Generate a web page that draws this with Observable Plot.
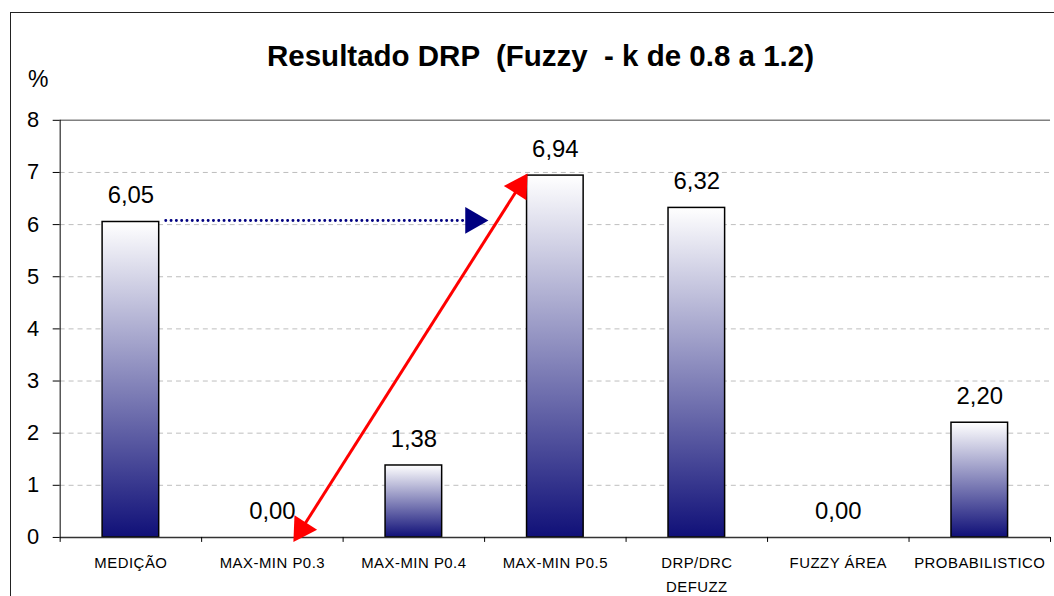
<!DOCTYPE html>
<html>
<head>
<meta charset="utf-8">
<script src="https://cdn.jsdelivr.net/npm/d3@7"></script>
<script src="https://cdn.jsdelivr.net/npm/@observablehq/plot@0.6"></script>
<style>
  html, body { margin: 0; padding: 0; background: #fff; }
  #wrap { position: relative; width: 1054px; height: 596px; overflow: hidden; font-family: "Liberation Sans", Arial, sans-serif; }
  #frame { position: absolute; left: 10px; top: 12px; width: 2000px; height: 2000px; border-left: 1.5px solid #222; border-top: 1.5px solid #222; }
  #title { position: absolute; left: 0; width: 1081px; top: 39px; text-align: center; font-weight: bold; font-size: 29.5px; color: #000; white-space: pre; }
  #unit { position: absolute; left: 28px; top: 66px; font-size: 23px; color: #000; }
  #chart { position: absolute; left: 0; top: 0; }
  #chart g[aria-label="x-axis tick label"] text { letter-spacing: 0.5px; }
</style>
</head>
<body>
<div id="wrap">
  <div id="frame"></div>
  <div id="title">Resultado DRP  (Fuzzy  - k de 0.8 a 1.2)</div>
  <div id="unit">%</div>
  <div id="chart"></div>
</div>
<script>
// ---- data ----
const categories = ["MEDIÇÃO", "MAX-MIN P0.3", "MAX-MIN P0.4", "MAX-MIN P0.5", "DRP/DRC\nDEFUZZ", "FUZZY ÁREA", "PROBABILISTICO"];
const values = [6.05, 0.00, 1.38, 6.94, 6.32, 0.00, 2.20];
const valueLabels = ["6,05", "0,00", "1,38", "6,94", "6,32", "0,00", "2,20"];
const yTicks = [0, 1, 2, 3, 4, 5, 6, 7, 8];

// annotation arrows (data units: x = category index, y = %)
const blueArrowLine = [{x1: 0.75, x2: 2.85, y: 6.08}];
const blueArrowHead = [{x: 2.918, y: 6.08, rotate: 90}];
const redArrowLine = [{x1: 1.707, y1: 0.162, x2: 3.245, y2: 6.73}];
const redArrowHeads = [{x: 3.245, y: 6.73, rotate: 32.4}, {x: 1.707, y: 0.162, rotate: 212.4}];

const rows = categories.map((c, i) => ({i, cat: c, value: values[i], label: valueLabels[i]}));
const bounds = d3.range(categories.length + 1);
const centers = categories.map((c, i) => i + 0.5);

const chart = Plot.plot({
  width: 1060,
  height: 596,
  marginTop: 120.5,
  marginBottom: 56,
  marginLeft: 60,
  marginRight: 4,
  style: {fontFamily: "'Liberation Sans', Arial, sans-serif", color: "#000", background: "transparent", overflow: "visible"},
  x: {type: "linear", domain: [0, categories.length], axis: null},
  y: {domain: [0, 8], axis: null},
  marks: [
    Plot.ruleY(yTicks.filter(d => d > 0 && d < 8), {stroke: "#bdbdbd", strokeDasharray: "5,4", strokeWidth: 1}),
    Plot.ruleY([8], {stroke: "#808080", strokeWidth: 1.5}),
    Plot.rectY(rows.filter(d => d.value > 0), {
      x1: d => d.i + 0.3, x2: d => d.i + 0.7, y1: 0, y2: "value",
      fill: "url(#barGrad)", stroke: "#000", strokeWidth: 1.5
    }),
    Plot.ruleY([0], {stroke: "#333", strokeWidth: 1.5}),
    Plot.ruleX([0], {stroke: "#000", strokeWidth: 1}),
    Plot.axisY({ticks: yTicks, tickSize: 7, tickPadding: 14, fontSize: 22, tickFormat: d => String(d)}),
    Plot.axisX({ticks: bounds, tickSize: 5, tickFormat: () => ""}),
    Plot.axisX({ticks: centers, tickSize: 0, tickPadding: 14, fontSize: 15, lineHeight: 1.6,
      tickFormat: d => categories[Math.round(d - 0.5)]}),
    Plot.text(rows, {x: d => d.i + 0.5, y: "value", text: "label", lineAnchor: "bottom", dy: -19, fontSize: 24}),
    Plot.ruleY(blueArrowLine, {x1: "x1", x2: "x2", y: "y", stroke: "#000080", strokeWidth: 3, strokeDasharray: "0,5.33", strokeLinecap: "round"}),
    Plot.dot(blueArrowHead, {x: "x", y: "y", rotate: "rotate", symbol: "triangle", r: 10, fill: "#000080", stroke: "none"}),
    Plot.link(redArrowLine, {x1: "x1", y1: "y1", x2: "x2", y2: "y2", stroke: "#ff0000", strokeWidth: 3}),
    Plot.dot(redArrowHeads, {x: "x", y: "y", rotate: "rotate", symbol: "triangle", r: 10, fill: "#ff0000", stroke: "none"})
  ]
});

const defs = d3.select(chart).insert("defs", ":first-child");
const g = defs.append("linearGradient").attr("id", "barGrad").attr("x1", 0).attr("y1", 0).attr("x2", 0).attr("y2", 1);
g.append("stop").attr("offset", "0%").attr("stop-color", "#ffffff");
g.append("stop").attr("offset", "100%").attr("stop-color", "#101078");

document.getElementById("chart").appendChild(chart);
</script>
</body>
</html>
